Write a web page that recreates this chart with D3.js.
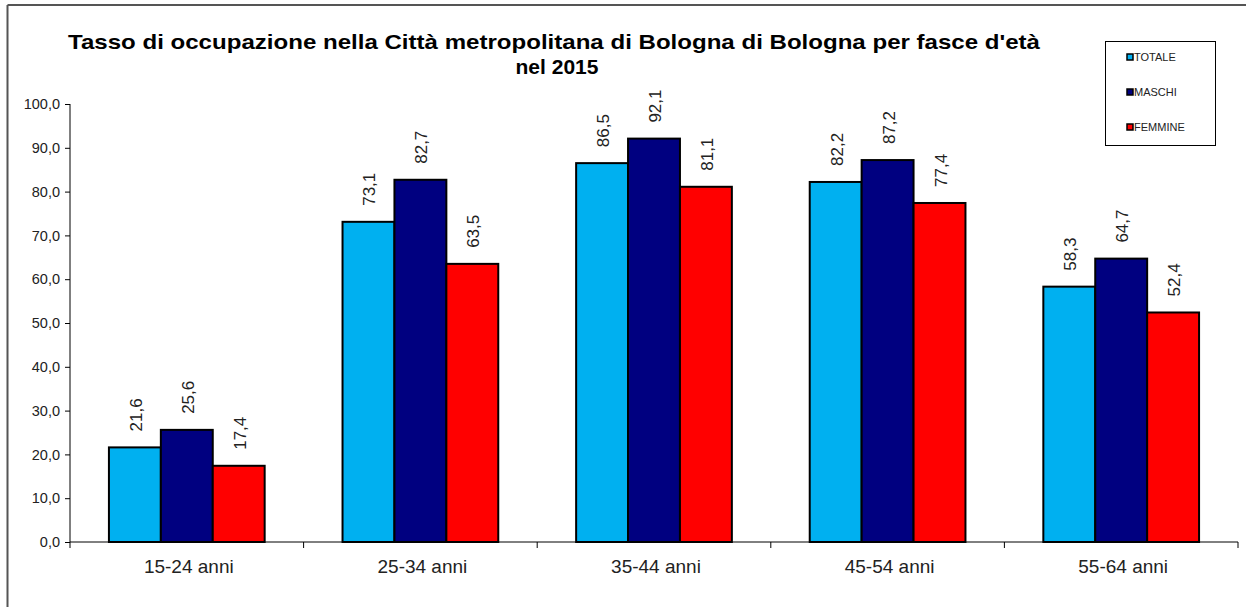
<!DOCTYPE html>
<html>
<head>
<meta charset="utf-8">
<script src="https://cdn.jsdelivr.net/npm/d3@7"></script>
<style>
body { margin: 0; background: #fff; }
svg { display: block; font-family: Arial, "Liberation Sans", sans-serif; }
</style>
</head>
<body>
<div id="chart"></div>
<script>
const categories = ["15-24 anni", "25-34 anni", "35-44 anni", "45-54 anni", "55-64 anni"];
const seriesNames = ["TOTALE", "MASCHI", "FEMMINE"];
const totale = [21.6, 73.1, 86.5, 82.2, 58.3];
const maschi = [25.6, 82.7, 92.1, 87.2, 64.7];
const femmine = [17.4, 63.5, 81.1, 77.4, 52.4];
const yTicks = [0, 10, 20, 30, 40, 50, 60, 70, 80, 90, 100];

const colors = ["#00B0F0", "#000080", "#FF0000"];
const series = [totale, maschi, femmine];

const svgWidth = 1246, svgHeight = 607;
const margin = {top: 104, right: 8, bottom: 65, left: 70};
const width = svgWidth - margin.left - margin.right;
const height = svgHeight - margin.top - margin.bottom;

const fmt = v => d3.format(".1f")(v).replace(".", ",");

const svg = d3.select("#chart")
  .append("svg")
  .attr("width", svgWidth)
  .attr("height", svgHeight);

// frame lines (top and left)
svg.append("line").attr("x1", 7.5).attr("x2", svgWidth).attr("y1", 5).attr("y2", 5)
  .attr("stroke", "#555").attr("stroke-width", 2);
svg.append("line").attr("x1", 7.5).attr("x2", 7.5).attr("y1", 5).attr("y2", svgHeight)
  .attr("stroke", "#555").attr("stroke-width", 2);

// title
svg.append("text")
  .attr("x", 68).attr("y", 49)
  .attr("font-weight", "bold")
  .attr("font-size", 21)
  .attr("textLength", 972)
  .attr("lengthAdjust", "spacingAndGlyphs")
  .text("Tasso di occupazione nella Città metropolitana di Bologna di Bologna per fasce d'età");
svg.append("text")
  .attr("x", 557).attr("y", 74)
  .attr("text-anchor", "middle")
  .attr("font-weight", "bold")
  .attr("font-size", 21)
  .text("nel 2015");

const g = svg.append("g")
  .attr("transform", `translate(${margin.left}, ${margin.top})`);

const x0 = d3.scaleBand()
  .domain(categories)
  .range([0, width]);

const x1 = d3.scaleBand()
  .domain(seriesNames)
  .range([0, x0.bandwidth()])
  .paddingInner(0)
  .paddingOuter(0.75);

const y = d3.scaleLinear()
  .domain([0, 100])
  .range([height, 0]);

// y axis
const yAxis = g.append("g")
  .call(d3.axisLeft(y).tickValues(yTicks).tickSize(5).tickFormat(fmt));
yAxis.select(".domain").attr("stroke", "#000").attr("d", `M0,0V${height}`);
yAxis.selectAll(".tick line").attr("stroke", "#000");
yAxis.selectAll(".tick text")
  .attr("font-size", 14.5).attr("fill", "#222").attr("x", -10);

// x axis
const xAxis = g.append("g")
  .attr("transform", `translate(0, ${height})`);
xAxis.append("line").attr("x1", 0).attr("x2", width).attr("stroke", "#000");
xAxis.selectAll(".sep")
  .data(d3.range(categories.length + 1))
  .enter().append("line")
  .attr("x1", i => i * x0.step()).attr("x2", i => i * x0.step())
  .attr("y1", 0).attr("y2", 6)
  .attr("stroke", "#000");
xAxis.selectAll(".lbl")
  .data(categories)
  .enter().append("text")
  .attr("x", d => x0(d) + x0.bandwidth() / 2 + 2)
  .attr("y", 31)
  .attr("text-anchor", "middle")
  .attr("font-size", 19)
  .attr("fill", "#222")
  .text(d => d);

// bars
const groups = g.selectAll(".grp")
  .data(categories)
  .enter().append("g")
  .attr("transform", d => `translate(${x0(d)}, 0)`);

groups.each(function(cat, ci) {
  const grp = d3.select(this);
  seriesNames.forEach((s, si) => {
    const v = series[si][ci];
    grp.append("rect")
      .attr("x", x1(s))
      .attr("y", y(v))
      .attr("width", x1.bandwidth())
      .attr("height", height - y(v))
      .attr("fill", colors[si])
      .attr("stroke", "#000")
      .attr("stroke-width", 2);
    const lx = x1(s) + x1.bandwidth() / 2 + 7;
    const ly = y(v) - 16;
    grp.append("text")
      .attr("transform", `translate(${lx}, ${ly}) rotate(-90)`)
      .attr("text-anchor", "start")
      .attr("font-size", 17)
      .attr("fill", "#222")
      .text(fmt(v));
  });
});

// legend
const legend = svg.append("g");
legend.append("rect")
  .attr("x", 1105.5).attr("y", 41.5).attr("width", 110).attr("height", 104)
  .attr("fill", "#fff").attr("stroke", "#000").attr("stroke-width", 1);
const legY = [57, 92, 127];
seriesNames.forEach((s, i) => {
  legend.append("rect")
    .attr("x", 1127).attr("y", legY[i] - 3).attr("width", 6).attr("height", 6)
    .attr("fill", colors[i]).attr("stroke", "#000").attr("stroke-width", 1.5);
  legend.append("text")
    .attr("x", 1134).attr("y", legY[i] + 4)
    .attr("font-size", 11).attr("fill", "#222")
    .text(s);
});
</script>
</body>
</html>
